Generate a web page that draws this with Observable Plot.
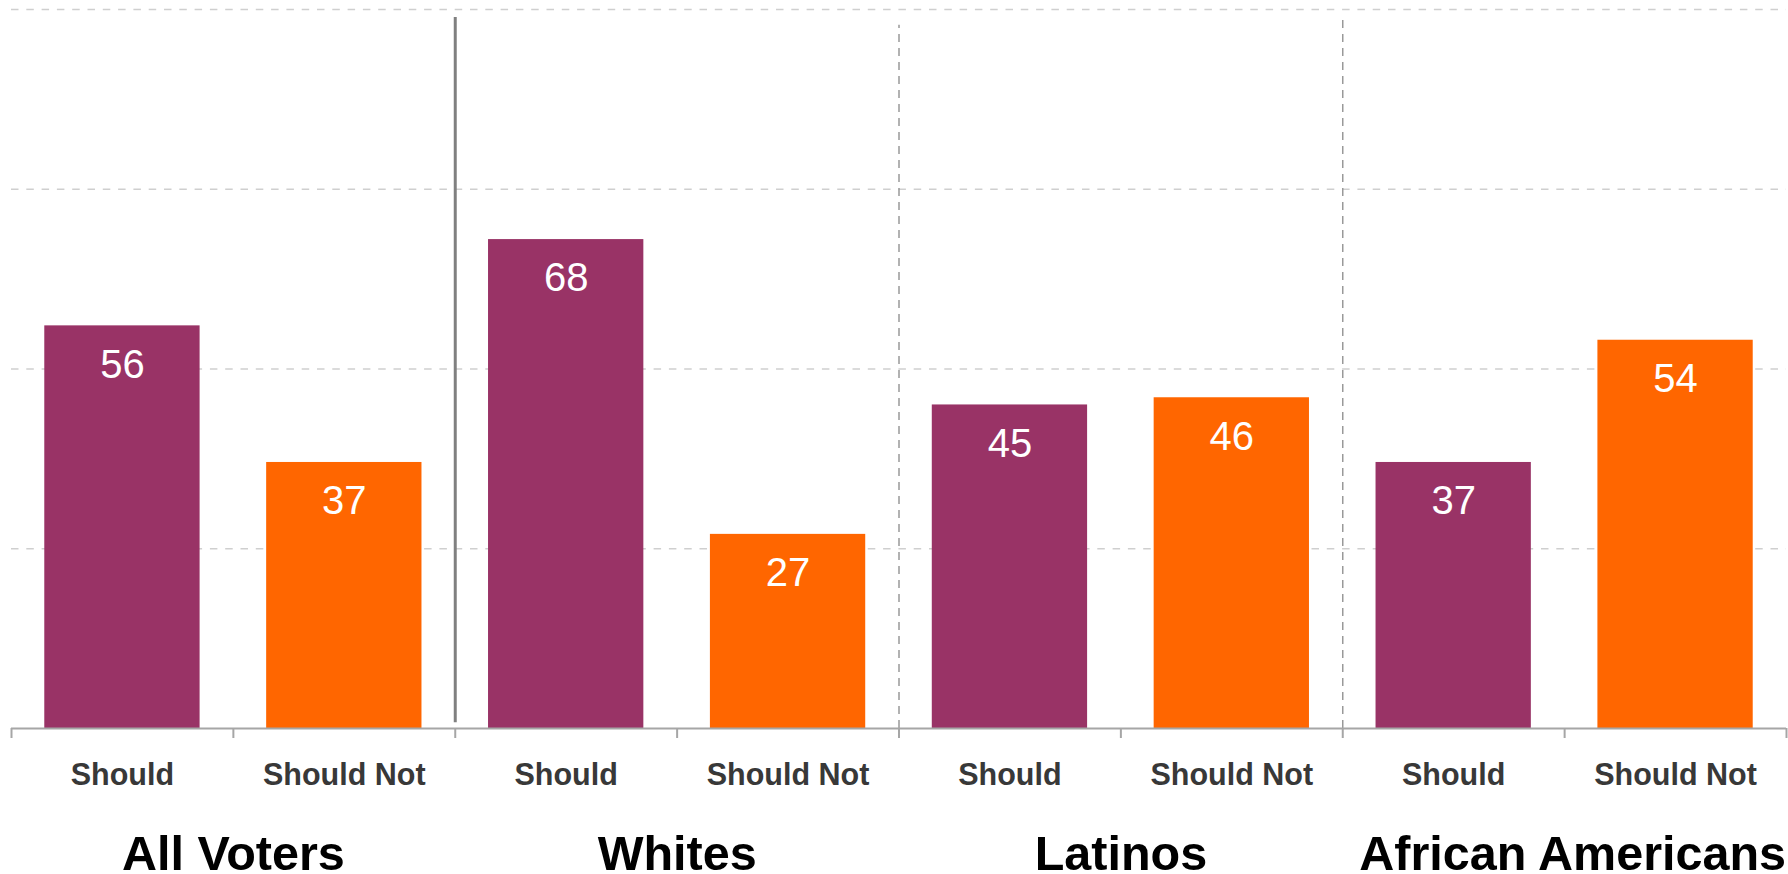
<!DOCTYPE html>
<html>
<head>
<meta charset="utf-8">
<script src="https://cdn.jsdelivr.net/npm/d3@7"></script>
<script src="https://cdn.jsdelivr.net/npm/@observablehq/plot@0.6"></script>
<style>
  html, body { margin: 0; padding: 0; background: #fff; }
  #chart svg { display: block; }
</style>
</head>
<body>
<div id="chart"></div>
<script>
// ---- data ----
const groups = ["All Voters", "Whites", "Latinos", "African Americans"];
const answers = ["Should", "Should Not"];
const shouldValues = [56, 68, 45, 37];
const shouldNotValues = [37, 27, 46, 54];
const yTicks = [25, 50, 75, 100];
const barColors = ["#993366", "#FF6600"];

// table built from the arrays above
const rows = [];
groups.forEach((g, gi) => {
  [shouldValues, shouldNotValues].forEach((vals, ai) => {
    rows.push({group: g, answer: answers[ai], value: vals[gi], slot: gi * 2 + ai});
  });
});
const slotEdges = d3.range(rows.length + 1);
const groupRows = groups.map((g, gi) => ({group: g, mid: gi * 2 + 1}));

const chart = Plot.plot({
  width: 1788,
  height: 874,
  marginLeft: 11,
  marginRight: 2,
  marginTop: 9,
  marginBottom: 146,
  x: {type: "linear", domain: [0, rows.length], axis: null},
  y: {type: "linear", domain: [0, 100], axis: null},
  color: {domain: answers, range: barColors},
  style: {fontFamily: "'Liberation Sans', Arial, sans-serif", background: "#fff", overflow: "visible"},
  marks: [
    Plot.gridY(yTicks, {stroke: "#cfcfcf", strokeOpacity: 1, strokeWidth: 1.5, strokeDasharray: "7.5,7.8"}),
    Plot.rectY(rows, {x1: d => d.slot + 0.15, x2: d => d.slot + 0.85, y: "value", fill: "answer"}),
    Plot.text(rows, {x: d => d.slot + 0.5, y: "value", text: d => String(d.value), fill: "#fff",
      fontSize: 40, dy: 39}),
    Plot.ruleX([2], {y1: 0.8, y2: 98.9, stroke: "#808080", strokeWidth: 3}),
    Plot.ruleX([4], {y1: 0, y2: 97.8, stroke: "#999", strokeWidth: 1.5, strokeDasharray: "8,6"}),
    Plot.ruleX([6], {y1: 0, y2: 99, stroke: "#999", strokeWidth: 1.5, strokeDasharray: "8,6"}),
    Plot.ruleY([0], {stroke: "#a6a6a6", strokeWidth: 2}),
    Plot.ruleX(slotEdges, {y1: 0, y2: 0, insetBottom: -10, stroke: "#a6a6a6", strokeWidth: 2}),
    Plot.text(rows, {x: d => d.slot + 0.5, y: 0, text: "answer", dy: 47, fontSize: 30.5,
      fontWeight: "bold", fill: "#383838"}),
    Plot.text(groupRows.slice(0, 3), {x: "mid", y: 0, text: "group", dy: 126, fontSize: 48.5,
      fontWeight: "bold", fill: "#000"}),
    Plot.text(groupRows.slice(3), {x: "mid", y: 0, text: "group", dy: 126, dx: 8, fontSize: 48.5,
      fontWeight: "bold", fill: "#000"})
  ]
});
document.getElementById("chart").appendChild(chart);
</script>
</body>
</html>
